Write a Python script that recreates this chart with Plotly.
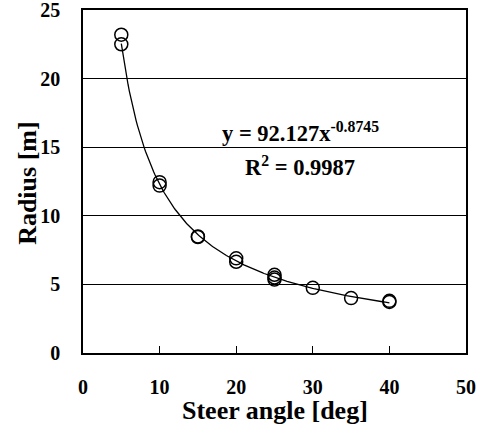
import numpy as np
import plotly.graph_objects as go

# Measured data (steer angle [deg], radius [m])
steer_angle = [5, 5, 10, 10, 15, 15, 20, 20, 25, 25, 25, 30, 35, 40, 40]
radius = [23.2, 22.5, 12.45, 12.2, 8.5, 8.45, 6.9, 6.65, 5.7, 5.5, 5.35, 4.75, 4.0, 3.8, 3.72]

# Power-law trendline coefficients shown on the chart
fit_a = 92.127
fit_b = -0.8745
fit_r2 = 0.9987

x_ticks = [0, 10, 20, 30, 40, 50]
y_ticks = [0, 5, 10, 15, 20, 25]

xf = np.linspace(min(steer_angle), max(steer_angle), 200)
yf = fit_a * xf ** fit_b

font_family = "Liberation Serif, Times New Roman, serif"
tick_font = dict(family=font_family, size=20, color="black", weight="bold")
title_font = dict(family=font_family, size=26, color="black", weight="bold")
eq_font = dict(family=font_family, size=22.5, color="black", weight="bold")

fig = go.Figure()
fig.add_trace(go.Scatter(x=xf, y=yf, mode="lines",
                         line=dict(color="black", width=1.3), showlegend=False,
                         hoverinfo="skip"))
fig.add_trace(go.Scatter(x=steer_angle, y=radius, mode="markers",
                         marker=dict(symbol="circle-open", size=13, color="black",
                                     line=dict(color="black", width=1.5)),
                         showlegend=False))

fig.add_annotation(x=0.567, y=0.645, xref="paper", yref="paper",
                   text=f"y = {fit_a}x<sup>{fit_b}</sup>", showarrow=False,
                   font=eq_font)
fig.add_annotation(x=0.567, y=0.545, xref="paper", yref="paper",
                   text=f"R<sup>2</sup> = {fit_r2}", showarrow=False,
                   font=eq_font)

# Axis titles
fig.add_annotation(x=0.5, y=-0.168, xref="paper", yref="paper",
                   text="Steer angle [deg]", showarrow=False, font=title_font,
                   xanchor="center", yanchor="middle")
fig.add_annotation(x=-0.1436, y=0.496, xref="paper", yref="paper",
                   text="Radius [m]", showarrow=False, font=title_font,
                   textangle=-90, xanchor="center", yanchor="middle")

fig.update_layout(
    width=485, height=427,
    margin=dict(l=83, r=19, t=10, b=74),
    plot_bgcolor="white", paper_bgcolor="white",
    font=dict(family=font_family, color="black"),
    xaxis=dict(range=[0, 50], tickvals=x_ticks, ticks="inside", ticklen=7,
               tickcolor="black", tickwidth=1, showgrid=False, zeroline=False,
               showline=True, linecolor="black", linewidth=1.5, mirror=True,
               tickfont=tick_font, ticklabelstandoff=15, automargin=False,
               ticklabeloverflow="allow"),
    yaxis=dict(range=[0, 25], tickvals=y_ticks, ticks="", showgrid=True,
               gridcolor="black", gridwidth=1, zeroline=False,
               showline=True, linecolor="black", linewidth=1.5, mirror=True,
               tickfont=tick_font, ticklabelstandoff=17, automargin=False,
               ticklabeloverflow="allow"),
)

fig.write_html("out.html", config={"displayModeBar": False},
               post_script="document.body.style.margin='0';")
